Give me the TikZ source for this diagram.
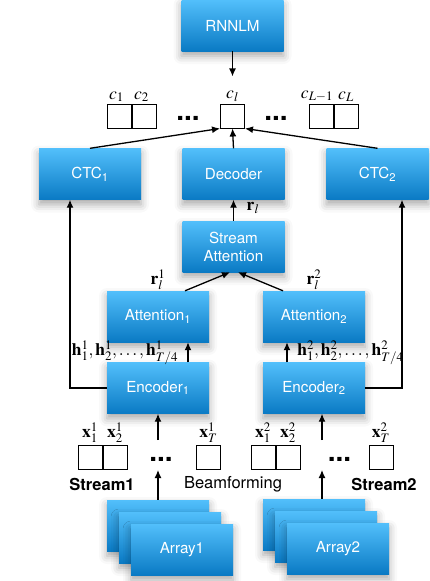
\documentclass[tikz,border=0pt]{standalone}
\usepackage{mathptmx}
\usepackage[no-math]{fontspec}
\setmainfont{TeX Gyre Heros}
\usepackage{tikz}
\usetikzlibrary{arrows.meta, positioning, shadows.blur}
\definecolor{boxtop}{RGB}{82,191,251}
\definecolor{boxbottom}{RGB}{10,122,196}

\tikzset{
    block/.style={rectangle, minimum width=102pt, minimum height=51pt, inner sep=0pt, align=center,
        top color=boxtop, bottom color=boxbottom, text=white, font=\fontsize{15.2}{18}\selectfont,
        blur shadow={shadow xshift=0pt, shadow yshift=-5pt, shadow blur radius=8pt, shadow opacity=35}},
    cell/.style={draw, line width=1pt, minimum width=24pt, minimum height=24pt, inner sep=0pt},
    lbl/.style={font=\fontsize{17.5}{19}\selectfont, inner sep=0.5pt},
    ellip/.style={font=\fontsize{28}{28}\selectfont\bfseries, inner sep=0pt, anchor=base},
    caption/.style={font=\fontsize{16.5}{18}\selectfont, inner sep=0pt},
    arr/.style={-{Latex[length=8pt,width=7pt]}, line width=1.3pt},
}

\begin{document}
\begin{tikzpicture}[x=1pt, y=-1pt]
    \useasboundingbox (0,0) rectangle (429,581);

    % top: language model and output symbols
    \node (rnnlm) [block] at (232.5,25.5) {RNNLM};
    \node (c_l) [cell] at (232.5,116) {};
    \node (c_one) [cell] at (119.5,116) {};
    \node (c_two) [cell, right=0pt of c_one] {};
    \node (c_last_but_one) [cell] at (321,116) {};
    \node (c_last) [cell, right=0pt of c_last_but_one] {};
    \node (c_dots_left) [ellip] at (188,120) {...};
    \node (c_dots_right) [ellip] at (276,120) {...};

        \node (c_one_lbl) [lbl, above=1pt of c_one, xshift=-3pt] {$c_1$};
        \node (c_two_lbl) [lbl, above=1pt of c_two, xshift=-3pt] {$c_2$};
        \node (c_l_lbl) [lbl, above=1pt of c_l] {$c_l$};
        \node (c_last_but_one_lbl) [lbl, above=1pt of c_last_but_one, xshift=-4pt] {$c_{L-1}$};
        \node (c_last_lbl) [lbl, above=1pt of c_last] {$c_L$};

    \draw[arr] (rnnlm.south) -- ([yshift=14pt]c_l_lbl.north);

    % decoders
    \node (ctc_one) [block] at (90,174) {CTC\textsubscript{1}};
    \node (decoder) [block] at (233.5,174) {Decoder};
    \node (ctc_two) [block] at (377.5,174) {CTC\textsubscript{2}};

    \draw[arr] (ctc_one.north) -- (c_l.south west);
    \draw[arr] (decoder.north) -- (c_l.south);
    \draw[arr] (ctc_two.north) -- (c_l.south east);

    % attention
    \node (stream_attention) [block] at (233.5,246.5) {Stream\\Attention};
    \node (attention_one) [block] at (158,316.5) {Attention\textsubscript{1}};
    \node (attention_two) [block] at (314,316.5) {Attention\textsubscript{2}};

    \draw[arr] (stream_attention.north) -- (decoder.south);
    \node (r_l) [lbl] at (253,208) {$\mathbf{r}_l$};

    \draw[arr] ([xshift=27pt]attention_one.north) -- ([xshift=-3.5pt]stream_attention.south);
    \draw[arr] ([xshift=-31pt]attention_two.north) -- ([xshift=4.5pt]stream_attention.south);
    \node (r_l_one) [lbl, above=0pt of attention_one] {$\mathbf{r}^1_l$};
    \node (r_l_two) [lbl, above=0pt of attention_two] {$\mathbf{r}^2_l$};

    % encoders
    \node (encoder_one) [block] at (158,388) {Encoder\textsubscript{1}};
    \node (encoder_two) [block] at (314,388) {Encoder\textsubscript{2}};

    \draw[arr] ([xshift=30pt]encoder_one.north) -- ([xshift=30pt]attention_one.south);
    \draw[arr] ([xshift=-27pt]encoder_two.north) -- ([xshift=-27pt]attention_two.south);
    \node (h_one) [lbl] at (125,353) {$\mathbf{h}^1_1, \mathbf{h}^1_2, \ldots, \mathbf{h}^1_{T/4}$};
    \node (h_two) [lbl] at (350.5,353) {$\mathbf{h}^2_1, \mathbf{h}^2_2, \ldots, \mathbf{h}^2_{T/4}$};

    \draw[arr] (encoder_one.west) -| ([xshift=-20pt]ctc_one.south);
    \draw[arr] (encoder_two.east) -| ([xshift=24.5pt]ctc_two.south);

    % input streams
    \node (x_one_one) [cell] at (90,457) {};
    \node (x_one_two) [cell, right=0pt of x_one_one] {};
    \node (x_one_last) [cell] at (208.5,457) {};
    \node (x_one_dots) [ellip] at (161,461) {...};
    \node (x_two_one) [cell] at (263,457) {};
    \node (x_two_two) [cell, right=0pt of x_two_one] {};
    \node (x_two_last) [cell] at (381,457) {};
    \node (x_two_dots) [ellip] at (339.5,461) {...};

        \node (x_one_one_lbl) [lbl, above=1pt of x_one_one] {$\mathbf{x}^1_1$};
        \node (x_one_two_lbl) [lbl, above=1pt of x_one_two] {$\mathbf{x}^1_2$};
        \node (x_one_last_lbl) [lbl, above=1pt of x_one_last] {$\mathbf{x}^1_T$};
        \node (x_two_one_lbl) [lbl, above=1pt of x_two_one] {$\mathbf{x}^2_1$};
        \node (x_two_two_lbl) [lbl, above=1pt of x_two_two] {$\mathbf{x}^2_2$};
        \node (x_two_last_lbl) [lbl, above=1pt of x_two_last] {$\mathbf{x}^2_T$};

    \coordinate (enc_in_one) at (158,440);
    \coordinate (enc_in_two) at (322,440);
    \draw[arr] (enc_in_one) -- (encoder_one.south);
    \draw[arr] (enc_in_two) -- ([xshift=8pt]encoder_two.south);

    \node (stream_one) [caption, font=\fontsize{16.5}{18}\selectfont\bfseries] at (102,484) {Stream1};
    \node (beamforming) [caption] at (233,484) {Beamforming};
    \node (stream_two) [caption, font=\fontsize{16.5}{18}\selectfont\bfseries] at (384,484) {Stream2};

    % microphone arrays
    \node (array_one_back) [block] at (158,525.5) {};
    \node (array_one_mid) [block] at (170,537.5) {};
    \node (array_one_front) [block] at (182,549.5) {Array1};
    \node (array_two_back) [block] at (314,524.5) {};
    \node (array_two_mid) [block] at (326,536.5) {};
    \node (array_two_front) [block] at (338,548.5) {Array2};

    \coordinate (beam_out_one) at (158,470);
    \coordinate (beam_out_two) at (322,470);
    \draw[arr] (array_one_back.north) -- (beam_out_one);
    \draw[arr] ([xshift=8pt]array_two_back.north) -- (beam_out_two);
\end{tikzpicture}
\end{document}
